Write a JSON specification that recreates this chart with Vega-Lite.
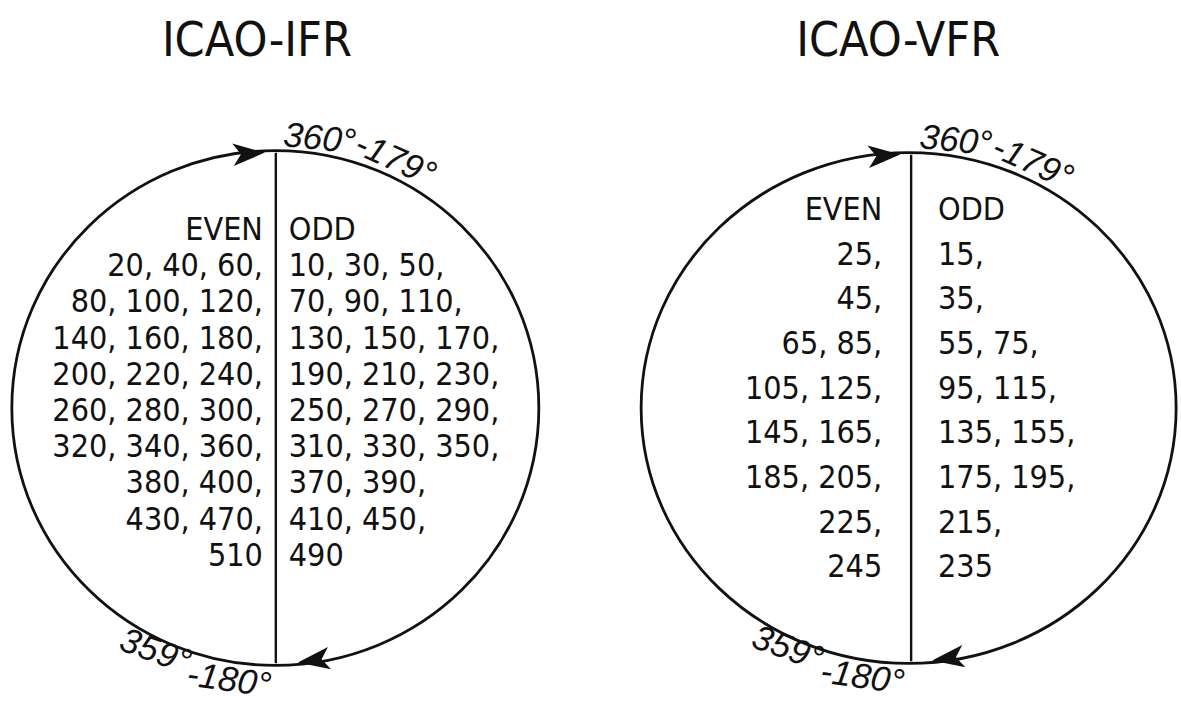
{
  "$schema": "https://vega.github.io/schema/vega-lite/v6.json",
  "width": 1181,
  "height": 704,
  "autosize": {"type": "fit", "contains": "padding"},
  "padding": 0,
  "background": "white",
  "config": {"view": {"stroke": null}},
  "datasets": {
    "circles": [
      {"chart": "IFR", "x": 276.5, "y": 411.5},
      {"chart": "VFR", "x": 912.5, "y": 411.5}
    ],
    "dividers": [
      {"chart": "IFR", "x": 277, "y": 154, "y2": 669},
      {"chart": "VFR", "x": 915, "y": 156, "y2": 667}
    ],
    "arrows": [
      {"chart": "IFR", "dir": "cw_top", "x": 250, "y": 155},
      {"chart": "IFR", "dir": "cw_bottom", "x": 315, "y": 666},
      {"chart": "VFR", "dir": "cw_top", "x": 888, "y": 157},
      {"chart": "VFR", "dir": "cw_bottom", "x": 952, "y": 664}
    ],
    "titles": [
      {"label": "ICAO-IFR", "x": 258, "y": 42},
      {"label": "ICAO-VFR", "x": 902, "y": 42}
    ],
    "levels": [
      {"chart": "IFR", "side": "EVEN", "label": "EVEN", "x": 264, "y": 232},
      {"chart": "IFR", "side": "ODD", "label": "ODD", "x": 290, "y": 232},
      {"chart": "IFR", "side": "EVEN", "label": "20, 40, 60,", "x": 264, "y": 268.5},
      {"chart": "IFR", "side": "ODD", "label": "10, 30, 50,", "x": 290, "y": 268.5},
      {"chart": "IFR", "side": "EVEN", "label": "80, 100, 120,", "x": 264, "y": 305},
      {"chart": "IFR", "side": "ODD", "label": "70, 90, 110,", "x": 290, "y": 305},
      {"chart": "IFR", "side": "EVEN", "label": "140, 160, 180,", "x": 264, "y": 341.5},
      {"chart": "IFR", "side": "ODD", "label": "130, 150, 170,", "x": 290, "y": 341.5},
      {"chart": "IFR", "side": "EVEN", "label": "200, 220, 240,", "x": 264, "y": 378},
      {"chart": "IFR", "side": "ODD", "label": "190, 210, 230,", "x": 290, "y": 378},
      {"chart": "IFR", "side": "EVEN", "label": "260, 280, 300,", "x": 264, "y": 414.5},
      {"chart": "IFR", "side": "ODD", "label": "250, 270, 290,", "x": 290, "y": 414.5},
      {"chart": "IFR", "side": "EVEN", "label": "320, 340, 360,", "x": 264, "y": 451},
      {"chart": "IFR", "side": "ODD", "label": "310, 330, 350,", "x": 290, "y": 451},
      {"chart": "IFR", "side": "EVEN", "label": "380, 400,", "x": 264, "y": 487.5},
      {"chart": "IFR", "side": "ODD", "label": "370, 390,", "x": 290, "y": 487.5},
      {"chart": "IFR", "side": "EVEN", "label": "430, 470,", "x": 264, "y": 524},
      {"chart": "IFR", "side": "ODD", "label": "410, 450,", "x": 290, "y": 524},
      {"chart": "IFR", "side": "EVEN", "label": "510", "x": 264, "y": 560.5},
      {"chart": "IFR", "side": "ODD", "label": "490", "x": 290, "y": 560.5},
      {"chart": "VFR", "side": "EVEN", "label": "EVEN", "x": 886, "y": 212},
      {"chart": "VFR", "side": "ODD", "label": "ODD", "x": 942, "y": 212},
      {"chart": "VFR", "side": "EVEN", "label": "25,", "x": 886, "y": 257},
      {"chart": "VFR", "side": "ODD", "label": "15,", "x": 942, "y": 257},
      {"chart": "VFR", "side": "EVEN", "label": "45,", "x": 886, "y": 302},
      {"chart": "VFR", "side": "ODD", "label": "35,", "x": 942, "y": 302},
      {"chart": "VFR", "side": "EVEN", "label": "65, 85,", "x": 886, "y": 347},
      {"chart": "VFR", "side": "ODD", "label": "55, 75,", "x": 942, "y": 347},
      {"chart": "VFR", "side": "EVEN", "label": "105, 125,", "x": 886, "y": 392},
      {"chart": "VFR", "side": "ODD", "label": "95, 115,", "x": 942, "y": 392},
      {"chart": "VFR", "side": "EVEN", "label": "145, 165,", "x": 886, "y": 437},
      {"chart": "VFR", "side": "ODD", "label": "135, 155,", "x": 942, "y": 437},
      {"chart": "VFR", "side": "EVEN", "label": "185, 205,", "x": 886, "y": 482},
      {"chart": "VFR", "side": "ODD", "label": "175, 195,", "x": 942, "y": 482},
      {"chart": "VFR", "side": "EVEN", "label": "225,", "x": 886, "y": 527},
      {"chart": "VFR", "side": "ODD", "label": "215,", "x": 942, "y": 527},
      {"chart": "VFR", "side": "EVEN", "label": "245", "x": 886, "y": 572},
      {"chart": "VFR", "side": "ODD", "label": "235", "x": 942, "y": 572}
    ],
    "degrees": [
      {"chart": "IFR", "part": "top1", "label": "360°", "x": 321, "y": 140},
      {"chart": "IFR", "part": "top2", "label": "-179°", "x": 397, "y": 161},
      {"chart": "IFR", "part": "bot1", "label": "359°", "x": 156, "y": 657},
      {"chart": "IFR", "part": "bot2", "label": "-180°", "x": 230, "y": 686},
      {"chart": "VFR", "part": "top1", "label": "360°", "x": 960, "y": 142},
      {"chart": "VFR", "part": "top2", "label": "-179°", "x": 1037, "y": 164},
      {"chart": "VFR", "part": "bot1", "label": "359°", "x": 791, "y": 654},
      {"chart": "VFR", "part": "bot2", "label": "-180°", "x": 866, "y": 683}
    ]
  },
  "encoding": {
    "x": {"field": "x", "type": "quantitative", "scale": {"domain": [0, 1181], "nice": false, "zero": false}, "axis": null},
    "y": {"field": "y", "type": "quantitative", "scale": {"domain": [0, 704], "nice": false, "zero": false, "reverse": true}, "axis": null}
  },
  "layer": [
    {
      "data": {"name": "circles"},
      "transform": [{"filter": "datum.chart === 'IFR'"}],
      "mark": {"type": "point", "shape": "M -1 0 A 1 0.977 0 1 0 1 0 A 1 0.977 0 1 0 -1 0 Z", "size": 277729, "filled": false, "stroke": "#111111", "strokeWidth": 2.8, "opacity": 1}
    },
    {
      "data": {"name": "circles"},
      "transform": [{"filter": "datum.chart === 'VFR'"}],
      "mark": {"type": "point", "shape": "M -1 0 A 1 0.955 0 1 0 1 0 A 1 0.955 0 1 0 -1 0 Z", "size": 286225, "filled": false, "stroke": "#111111", "strokeWidth": 2.8, "opacity": 1}
    },
    {
      "data": {"name": "dividers"},
      "mark": {"type": "rule", "color": "#111111", "strokeWidth": 2.4},
      "encoding": {"y2": {"field": "y2"}}
    },
    {
      "data": {"name": "arrows"},
      "transform": [{"filter": "datum.dir === 'cw_top'"}],
      "mark": {"type": "point", "shape": "M 1 0 L -1 -0.7 L -0.5 0 L -1 0.7 Z", "size": 1024, "filled": true, "color": "#111111", "opacity": 1, "angle": 356}
    },
    {
      "data": {"name": "arrows"},
      "transform": [{"filter": "datum.dir === 'cw_bottom'"}],
      "mark": {"type": "point", "shape": "M 1 0 L -1 -0.7 L -0.5 0 L -1 0.7 Z", "size": 1024, "filled": true, "color": "#111111", "opacity": 1, "angle": 172}
    },
    {
      "data": {"name": "titles"},
      "mark": {"type": "text", "font": "DejaVu Sans Condensed", "fontSize": 48, "color": "#111111", "align": "center", "baseline": "middle"},
      "encoding": {"text": {"field": "label"}}
    },
    {
      "data": {"name": "levels"},
      "transform": [{"filter": "datum.side === 'EVEN'"}],
      "mark": {"type": "text", "font": "DejaVu Sans Condensed", "fontSize": 32, "color": "#111111", "align": "right", "baseline": "middle"},
      "encoding": {"text": {"field": "label"}}
    },
    {
      "data": {"name": "levels"},
      "transform": [{"filter": "datum.side === 'ODD'"}],
      "mark": {"type": "text", "font": "DejaVu Sans Condensed", "fontSize": 32, "color": "#111111", "align": "left", "baseline": "middle"},
      "encoding": {"text": {"field": "label"}}
    },
    {
      "data": {"name": "degrees"},
      "transform": [{"filter": "datum.part === 'top1'"}],
      "mark": {"type": "text", "font": "Liberation Sans", "fontStyle": "italic", "fontSize": 35, "color": "#111111", "align": "center", "baseline": "middle", "angle": 6},
      "encoding": {"text": {"field": "label"}}
    },
    {
      "data": {"name": "degrees"},
      "transform": [{"filter": "datum.part === 'top2'"}],
      "mark": {"type": "text", "font": "Liberation Sans", "fontStyle": "italic", "fontSize": 35, "color": "#111111", "align": "center", "baseline": "middle", "angle": 24},
      "encoding": {"text": {"field": "label"}}
    },
    {
      "data": {"name": "degrees"},
      "transform": [{"filter": "datum.part === 'bot1'"}],
      "mark": {"type": "text", "font": "Liberation Sans", "fontStyle": "italic", "fontSize": 35, "color": "#111111", "align": "center", "baseline": "middle", "angle": 20},
      "encoding": {"text": {"field": "label"}}
    },
    {
      "data": {"name": "degrees"},
      "transform": [{"filter": "datum.part === 'bot2'"}],
      "mark": {"type": "text", "font": "Liberation Sans", "fontStyle": "italic", "fontSize": 35, "color": "#111111", "align": "center", "baseline": "middle", "angle": 8},
      "encoding": {"text": {"field": "label"}}
    }
  ]
}
